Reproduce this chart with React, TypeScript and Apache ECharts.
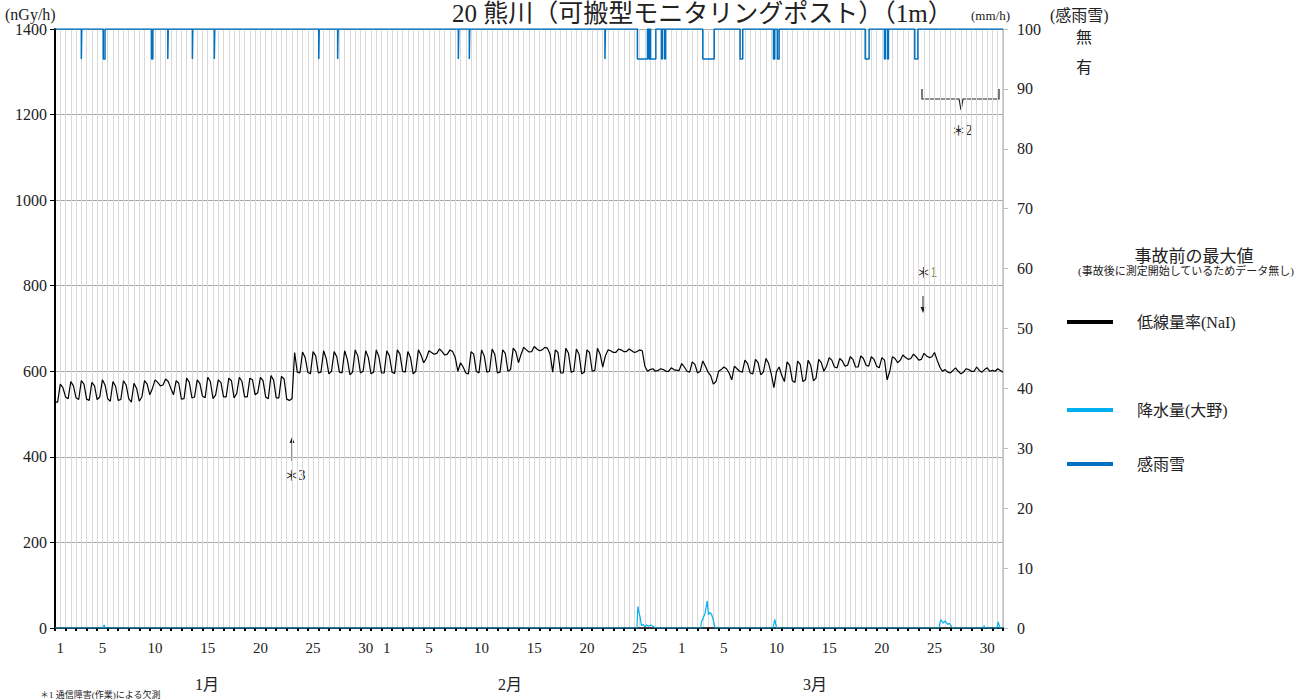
import React, { useEffect, useRef } from "react";
import * as echarts from "echarts";

const FONT = "'Liberation Serif', 'Noto Sans CJK JP', serif";

// month lengths & x tick labels
const monthLengths = [31, 28, 31];
const monthNames = ["1月", "2月", "3月"];
const shownDays = [1, 5, 10, 15, 20, 25, 30];

// 低線量率(NaI) nGy/h, 4 readings per day (every 6 h)
const naiJan = [
  528, 570, 562, 540, 536, 576, 566, 538, 534, 578, 570, 535, 532, 574, 566, 534, 540, 580, 568, 536,
  530, 576, 565, 532, 534, 578, 568, 536, 528, 572, 560, 530, 540, 578, 570, 545, 560, 580, 574, 566,
  568, 582, 576, 560, 545, 578, 572, 535, 536, 584, 574, 538, 540, 580, 572, 542, 538, 586, 576, 536,
  545, 580, 574, 540, 540, 584, 578, 538, 548, 586, 576, 540, 540, 584, 580, 545, 550, 586, 578, 540,
  536, 590, 580, 538, 538, 588, 582, 535, 532, 536, 644, 598, 596, 645, 632, 598, 594, 646, 636, 596,
  598, 648, 630, 594, 600, 646, 634, 598, 596, 648, 628, 592, 598, 650, 636, 596, 600, 648, 632, 594,
  598, 650, 634, 596,
];
const naiFeb = [
  596, 648, 636, 598, 595, 650, 640, 600, 598, 646, 632, 594, 600, 650, 638, 620, 630, 648, 644, 640,
  642, 652, 646, 638, 640, 650, 646, 632, 600, 620, 610, 596, 594, 646, 640, 600, 596, 650, 636, 598,
  600, 652, 640, 596, 598, 650, 642, 600, 604, 654, 646, 620, 640, 656, 650, 645, 646, 658, 652, 648,
  650, 656, 654, 640, 598, 650, 644, 596, 596, 654, 642, 598, 600, 652, 640, 594, 598, 650, 644, 600,
  602, 654, 640, 610, 636, 650, 648, 644, 644, 652, 650, 646, 646, 652, 648, 644, 646, 650, 648, 612,
  600, 604, 606, 600, 602, 606, 604, 600, 600, 608, 604, 602,
];
const naiMar = [
  602, 618, 610, 600, 598, 622, 616, 596, 600, 624, 612, 598, 590, 570, 576, 600, 604, 610, 606, 596,
  580, 612, 606, 600, 598, 626, 618, 596, 594, 628, 620, 592, 598, 630, 618, 594, 562, 600, 610, 590,
  576, 622, 614, 578, 574, 624, 616, 576, 580, 626, 614, 578, 584, 628, 620, 600, 612, 632, 626, 610,
  608, 630, 624, 612, 614, 634, 628, 610, 610, 636, 630, 614, 612, 634, 628, 612, 608, 632, 626, 580,
  600, 634, 630, 620, 626, 638, 632, 628, 630, 640, 634, 626, 628, 642, 636, 632, 634, 644, 626, 610,
  600, 604, 598, 596, 602, 608, 600, 594, 598, 606, 604, 600, 600, 610, 602, 598, 604, 608, 600, 602,
  600, 606, 602, 598,
];

// 降水量(大野) mm/h : [hour since Jan 1 00:00, mm]
const rainPoints: [number, number][] = [
  [0, 0], [110, 0], [112, 0.5], [114, 0],
  [1326, 0], [1328, 3.6], [1330, 2.8], [1332, 2.2], [1334, 1.5], [1336, 0.4], [1340, 0.6], [1344, 0.2],
  [1348, 0.5], [1352, 0.3], [1358, 0.5], [1364, 0.2], [1370, 0],
  [1471, 0], [1473, 1.0], [1481, 2.4], [1486, 4.5], [1489, 2.2], [1492, 2.6], [1496, 2.3], [1500, 1.3], [1504, 0],
  [1636, 0], [1640, 1.45], [1644, 0],
  [2014, 0], [2018, 1.4], [2024, 0.8], [2028, 1.2], [2034, 0.6], [2038, 0.8], [2042, 0.3], [2045, 0],
  [2115, 0], [2117, 0.4], [2119, 0],
  [2146, 0], [2149, 1.0], [2153, 0], [2160, 0],
];

// 感雨雪 "有" periods : [start hour, end hour]
const senseIntervals: [number, number][] = [
  [60, 61], [110, 114], [220, 223], [257, 258], [313, 314], [363, 364], [601, 602], [644, 645],
  [919, 920], [944, 945], [1253, 1254], [1327, 1350], [1353, 1355], [1357, 1369], [1382, 1384],
  [1389, 1391], [1476, 1502], [1561, 1567], [1637, 1640], [1646, 1650], [1846, 1855], [1890, 1892],
  [1897, 1899], [1959, 1966],
];
const SENSE_NO = 100;
const SENSE_YES = 95;

function buildOption() {
  const days: string[] = [];
  monthLengths.forEach((n) => {
    for (let d = 1; d <= n; d++) days.push(String(d));
  });
  const totalHours = days.length * 24;
  const nai = [...naiJan, ...naiFeb, ...naiMar];
  const naiData: [number, number][] = [[0, nai[0]]];
  nai.forEach((v, i) => naiData.push([(i + 1) * 6, v]));

  const senseData: [number, number][] = [[0, SENSE_NO]];
  senseIntervals.forEach(([s, e]) => {
    senseData.push([s, SENSE_NO], [s, SENSE_YES], [e, SENSE_YES], [e, SENSE_NO]);
  });
  senseData.push([totalHours, SENSE_NO]);

  const txt = (text: string, x: number, y: number, size: number, align = "left", extra: any = {}) => ({
    type: "text",
    x,
    y,
    silent: true,
    style: {
      text,
      fill: "#222",
      font: `${extra.weight || "normal"} ${size}px ${FONT}`,
      align,
      textAlign: align,
      verticalAlign: "middle",
      textVerticalAlign: "middle",
    },
  });

  const arrow = (x: number, y1: number, y2: number) => {
    const dir = y2 > y1 ? 1 : -1;
    return [
      { type: "line", silent: true, shape: { x1: x, y1, x2: x, y2: y2 - dir * 4 }, style: { stroke: "#222", lineWidth: 1 } },
      {
        type: "polygon",
        silent: true,
        shape: { points: [[x - 2.5, y2 - dir * 6], [x + 2.5, y2 - dir * 6], [x, y2]] },
        style: { fill: "#222" },
      },
    ];
  };

  const plotLeft = 55, plotRight = 1003;
  const monthX = [207, 510, 815];
  const monthTexts = monthNames.map((m, i) => txt(m, monthX[i], 684, 16, "center"));

  const legendText = { fontSize: 16, color: "#222", fontFamily: FONT, padding: [0, 0, 0, 19] };

  return {
    animation: false,
    textStyle: { fontFamily: FONT },
    grid: { left: plotLeft, right: 1315 - plotRight, top: 29, bottom: 72, containLabel: false },
    legend: [
      { data: ["低線量率(NaI)"], left: 1062, top: 309, icon: "rect", itemWidth: 46, itemHeight: 4, selectedMode: false, textStyle: legendText },
      { data: ["降水量(大野)"], left: 1062, top: 397, icon: "rect", itemWidth: 46, itemHeight: 4, selectedMode: false, textStyle: legendText },
      { data: ["感雨雪"], left: 1062, top: 451, icon: "rect", itemWidth: 46, itemHeight: 4, selectedMode: false, textStyle: legendText },
    ],
    xAxis: [
      {
        type: "category",
        data: days,
        boundaryGap: true,
        position: "bottom",
        axisLine: { lineStyle: { color: "#000", width: 1.5 } },
        axisTick: { show: true, interval: 0, length: 3, lineStyle: { color: "#000", width: 2 } },
        axisLabel: {
          interval: 0,
          margin: 12,
          fontSize: 15,
          color: "#222",
          fontFamily: FONT,
          formatter: (v: string) => (shownDays.includes(Number(v)) ? v : ""),
        },
        splitLine: { show: false },
        z: 3,
      },
      {
        type: "value",
        min: 0,
        max: totalHours,
        interval: 12,
        show: true,
        axisLine: { show: false },
        axisTick: { show: false },
        axisLabel: { show: false },
        splitLine: { show: true, lineStyle: { color: "#d9d9d9", width: 1 } },
      },
    ],
    yAxis: [
      {
        type: "value",
        min: 0,
        max: 1400,
        interval: 200,
        position: "left",
        axisLine: { show: true, lineStyle: { color: "#000", width: 2 } },
        axisTick: { show: true, length: 5, lineStyle: { color: "#000" } },
        axisLabel: { fontSize: 16, color: "#222", fontFamily: FONT, margin: 8, formatter: (v: number) => String(v) },
        splitLine: { show: true, lineStyle: { color: "#a6a6a6", width: 1 } },
      },
      {
        type: "value",
        min: 0,
        max: 100,
        interval: 10,
        position: "right",
        axisLine: { show: true, lineStyle: { color: "#bfbfbf", width: 1.5 } },
        axisTick: { show: true, length: 5, lineStyle: { color: "#bfbfbf" } },
        axisLabel: { fontSize: 16, color: "#222", fontFamily: FONT, margin: 14, formatter: (v: number) => String(v) },
        splitLine: { show: false },
      },
    ],
    series: [
      {
        name: "感雨雪",
        type: "line",
        xAxisIndex: 1,
        yAxisIndex: 1,
        data: senseData,
        showSymbol: false,
        symbol: "none",
        lineStyle: { color: "#0070c0", width: 1.5 },
        itemStyle: { color: "#0070c0" },
        z: 3,
      },
      {
        name: "降水量(大野)",
        type: "line",
        xAxisIndex: 1,
        yAxisIndex: 1,
        data: rainPoints,
        showSymbol: false,
        symbol: "none",
        lineStyle: { color: "#00b0f0", width: 1.2 },
        itemStyle: { color: "#00b0f0" },
        z: 4,
      },
      {
        name: "低線量率(NaI)",
        type: "line",
        xAxisIndex: 1,
        yAxisIndex: 0,
        data: naiData,
        showSymbol: false,
        symbol: "none",
        lineStyle: { color: "#000", width: 1.2 },
        itemStyle: { color: "#000" },
        z: 5,
      },
    ],
    graphic: [
      txt("20 熊川（可搬型モニタリングポスト）（1m）", 452, 13, 25, "left"),
      txt("(nGy/h)", 5, 14, 16),
      txt("(mm/h)", 971, 15, 13),
      txt("(感雨雪)", 1050, 15, 16),
      txt("無", 1084, 37, 16, "center"),
      txt("有", 1084, 67, 16, "center"),
      txt("事故前の最大値", 1194, 256, 17, "center"),
      txt("(事故後に測定開始しているためデータ無し)", 1186, 271, 11, "center"),
      txt("＊1", 927, 272, 14, "center"),
      ...arrow(923, 296, 313),
      txt("＊2", 962, 130, 14, "center"),
      {
        type: "polyline",
        silent: true,
        shape: { points: [[922, 89], [922, 99], [959, 99], [961, 110], [963, 99], [999, 99], [999, 89]] },
        style: { stroke: "#222", lineWidth: 1.2, fill: null },
      },
      txt("＊3", 295, 475, 14, "center"),
      ...arrow(292, 461, 437),
      ...monthTexts,
      txt("＊1 通信障害(作業)による欠測", 40, 695, 9),
    ],
  };
}

export default function App() {
  const ref = useRef<HTMLDivElement>(null);
  useEffect(() => {
    if (!ref.current) return;
    const chart = echarts.init(ref.current, null, { renderer: "svg" });
    chart.setOption(buildOption() as any);
    return () => chart.dispose();
  }, []);
  return <div ref={ref} style={{ position: "absolute", left: 0, top: 0, width: 1315, height: 700 }} />;
}
